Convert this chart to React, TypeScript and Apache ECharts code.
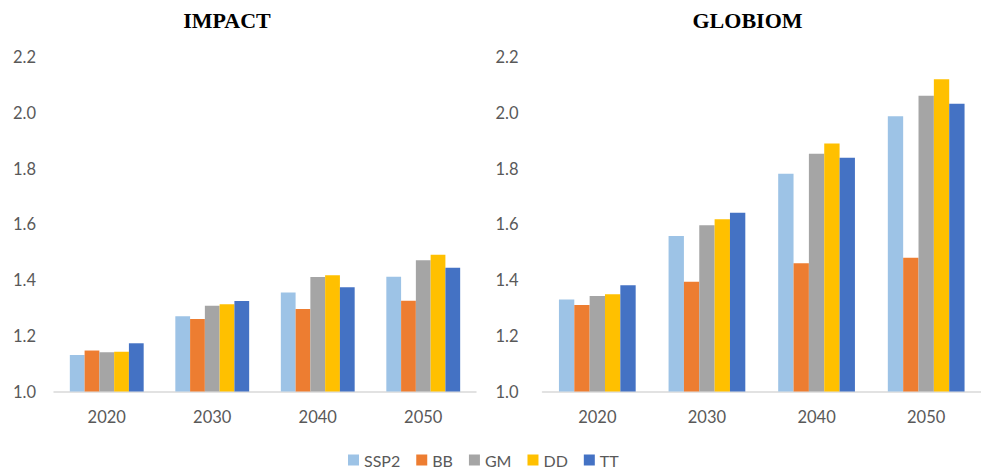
import React, { useEffect, useRef } from "react";
import * as echarts from "echarts";

const years = ["2020", "2030", "2040", "2050"];
const seriesNames = ["SSP2", "BB", "GM", "DD", "TT"];
const colors = ["#9DC3E6", "#ED7D31", "#A5A5A5", "#FFC000", "#4472C4"];
const yTicks = [1.0, 1.2, 1.4, 1.6, 1.8, 2.0, 2.2];
const panelTitles = ["IMPACT", "GLOBIOM"];

const impactSSP2 = [1.131, 1.27, 1.355, 1.412];
const impactBB = [1.147, 1.26, 1.296, 1.326];
const impactGM = [1.141, 1.308, 1.411, 1.471];
const impactDD = [1.143, 1.313, 1.417, 1.491];
const impactTT = [1.173, 1.325, 1.374, 1.444];

const globiomSSP2 = [1.33, 1.558, 1.781, 1.987];
const globiomBB = [1.31, 1.394, 1.46, 1.48];
const globiomGM = [1.343, 1.596, 1.853, 2.061];
const globiomDD = [1.349, 1.618, 1.89, 2.12];
const globiomTT = [1.381, 1.641, 1.839, 2.032];

const impactData = [impactSSP2, impactBB, impactGM, impactDD, impactTT];
const globiomData = [globiomSSP2, globiomBB, globiomGM, globiomDD, globiomTT];

const FONT = "Lato, 'Open Sans', sans-serif";

export default function App() {
  const ref = useRef<HTMLDivElement>(null);
  useEffect(() => {
    document.body.style.margin = "0";
    if (!ref.current) return;
    const chart = echarts.init(ref.current, undefined, { renderer: "svg" });
    const mkX = (gi: number) => ({
      type: "category",
      gridIndex: gi,
      data: years,
      axisTick: { show: false },
      axisLine: { lineStyle: { color: "#D9D9D9", width: 1.5 } },
      axisLabel: { color: "#595959", fontSize: 16.5, fontFamily: FONT, margin: 17 },
    });
    const mkY = (gi: number, margin: number) => ({
      type: "value",
      gridIndex: gi,
      min: yTicks[0],
      max: yTicks[yTicks.length - 1],
      interval: 0.2,
      axisLine: { show: false },
      axisTick: { show: false },
      splitLine: { show: false },
      axisLabel: {
        color: "#595959",
        fontSize: 16.5,
        fontFamily: FONT,
        margin,
        formatter: (v: number) => v.toFixed(1),
      },
    });
    const series: any[] = [];
    [impactData, globiomData].forEach((set, gi) => {
      set.forEach((vals, si) => {
        series.push({
          type: "bar",
          name: seriesNames[si],
          xAxisIndex: gi,
          yAxisIndex: gi,
          data: vals,
          barGap: "0%",
          barCategoryGap: "30%",
          itemStyle: { color: colors[si] },
        });
      });
    });
    const titleX = [227, 747.5];
    chart.setOption({
      animation: false,
      color: colors,
      graphic: panelTitles.map((t, i) => ({
        type: "text",
        x: titleX[i],
        y: 20,
        style: {
          text: t,
          textAlign: "center",
          textVerticalAlign: "middle",
          fontFamily: "'Liberation Serif', serif",
          fontSize: 22,
          fontWeight: "bold",
          fill: "#000",
        },
      })),
      legend: {
        data: seriesNames,
        left: 348,
        top: 452,
        padding: 0,
        itemWidth: 11,
        itemHeight: 11,
        itemGap: 16,
        icon: "rect",
        textStyle: { color: "#595959", fontSize: 16, fontFamily: FONT, padding: [0, 0, 0, 0] },
      },
      grid: [
        { left: 54, width: 422, top: 57, height: 334.5 },
        { left: 542.5, width: 447, top: 57, height: 334.5 },
      ],
      xAxis: [mkX(0), mkX(1)],
      yAxis: [mkY(0, 18), mkY(1, 24)],
      series,
    });
    return () => chart.dispose();
  }, []);
  return <div ref={ref} style={{ width: 981, height: 470 }} />;
}
